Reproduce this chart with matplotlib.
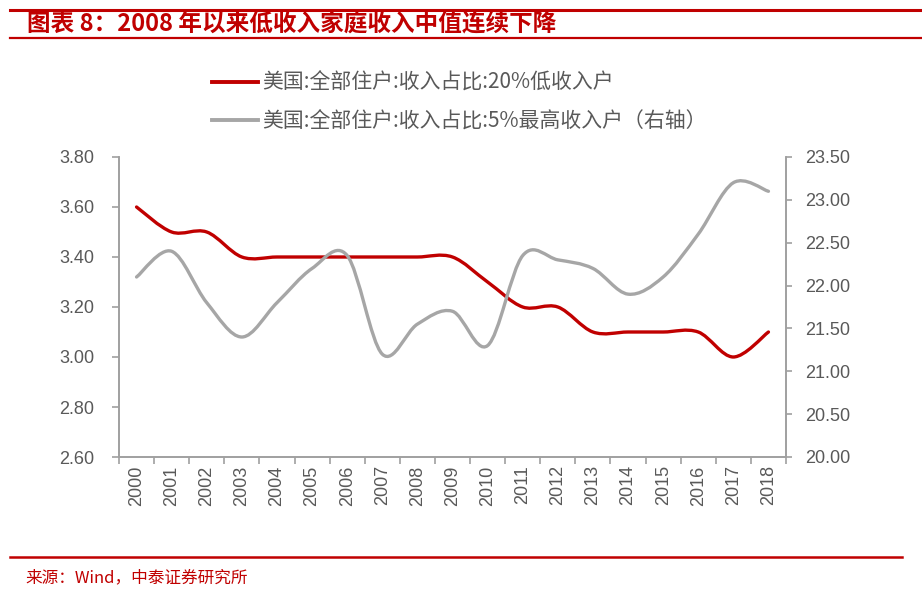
import matplotlib
matplotlib.use("Agg")
import matplotlib.pyplot as plt
from matplotlib.path import Path
from matplotlib.patches import PathPatch
from matplotlib.lines import Line2D
import numpy as np

plt.rcParams['font.family'] = ['Liberation Sans', 'Noto Sans CJK SC', 'DejaVu Sans']

years = [str(y) for y in range(2000, 2019)]
low20 = [3.6, 3.5, 3.5, 3.4, 3.4, 3.4, 3.4, 3.4, 3.4, 3.4, 3.3, 3.2, 3.2, 3.1, 3.1, 3.1, 3.1, 3.0, 3.1]
top5 = [22.1, 22.4, 21.8, 21.4, 21.8, 22.2, 22.35, 21.2, 21.55, 21.7, 21.3, 22.35, 22.3, 22.2, 21.9, 22.1, 22.6, 23.2, 23.1]
left_ticks = [2.6, 2.8, 3.0, 3.2, 3.4, 3.6, 3.8]
right_ticks = [20.0, 20.5, 21.0, 21.5, 22.0, 22.5, 23.0, 23.5]

title = "图表 8：2008 年以来低收入家庭收入中值连续下降"
label_low = "美国:全部住户:收入占比:20%低收入户"
label_top = "美国:全部住户:收入占比:5%最高收入户（右轴）"
source = "来源：Wind，中泰证券研究所"

RED = '#C00000'
GRAY = '#A6A6A6'
TXT = '#595959'
AX = '#A0A0A0'
CJK = ['Noto Sans CJK SC', 'DejaVu Sans']


def smooth_path(xs, ys):
    xs = np.asarray(xs, float)
    ys = np.asarray(ys, float)
    n = len(xs)
    verts = [(xs[0], ys[0])]
    codes = [Path.MOVETO]
    for i in range(n - 1):
        p0 = (xs[max(i - 1, 0)], ys[max(i - 1, 0)])
        p1 = (xs[i], ys[i])
        p2 = (xs[i + 1], ys[i + 1])
        p3 = (xs[min(i + 2, n - 1)], ys[min(i + 2, n - 1)])
        c1 = (p1[0] + (p2[0] - p0[0]) / 6, p1[1] + (p2[1] - p0[1]) / 6)
        c2 = (p2[0] - (p3[0] - p1[0]) / 6, p2[1] - (p3[1] - p1[1]) / 6)
        verts += [c1, c2, p2]
        codes += [Path.CURVE4] * 3
    return Path(verts, codes)


fig = plt.figure(figsize=(9.22, 5.98), dpi=100)
fig.patch.set_facecolor('white')
W, H = 922, 598
ax = fig.add_axes([119 / W, 1 - 457 / H, (786 - 119) / W, (457 - 157) / H])
ax2 = ax.twinx()

x = np.arange(len(years))
ax.add_patch(PathPatch(smooth_path(x, low20), fill=False, edgecolor=RED, lw=2.4,
                       capstyle='round', joinstyle='round', zorder=3))
ax2.add_patch(PathPatch(smooth_path(x, top5), fill=False, edgecolor=GRAY, lw=2.4,
                        capstyle='round', joinstyle='round', zorder=2))

ax.set_xlim(-0.5, len(years) - 0.5)
ax.set_ylim(2.6, 3.8)
ax2.set_ylim(20.0, 23.5)
ax.set_yticks(left_ticks)
ax.set_yticklabels([f"{v:.2f}" for v in left_ticks])
ax2.set_yticks(right_ticks)
ax2.set_yticklabels([f"{v:.2f}" for v in right_ticks])
ax.set_xticks(x)
ax.set_xticklabels(years, rotation=90)
ax.set_xticks(np.arange(-0.5, len(years), 1.0), minor=True)

for a in (ax, ax2):
    a.set_facecolor('none')
    a.spines['top'].set_visible(False)
    for s in ('left', 'right', 'bottom'):
        a.spines[s].set_color(AX)
        a.spines[s].set_linewidth(1.2)

ax.tick_params(axis='x', which='major', length=0, pad=6, labelsize=13, labelcolor=TXT)
ax.tick_params(axis='x', which='minor', length=5, width=1.2, color=AX, direction='out')
ax.tick_params(axis='y', length=5, width=1.2, color=AX, direction='out', pad=13,
               labelsize=13, labelcolor=TXT)
ax2.tick_params(axis='y', length=4, width=1.2, color=AX, direction='out', pad=10,
                labelsize=13, labelcolor=TXT)

handles = [Line2D([], [], color=RED, lw=2.8), Line2D([], [], color=GRAY, lw=2.8)]
fig.legend(handles, [label_low, label_top], loc='upper left',
           bbox_to_anchor=(212 / W, 1 - 72 / H), frameon=False,
           prop={'family': CJK, 'size': 15},
           labelcolor=TXT, handlelength=2.2, handletextpad=0.2,
           labelspacing=0.8, borderpad=0, borderaxespad=0)

# header
fig.add_artist(Line2D([10 / W, 1.0], [1 - 10 / H, 1 - 10 / H], color=RED, lw=2.2))
fig.add_artist(Line2D([10 / W, 1.0], [1 - 38 / H, 1 - 38 / H], color=RED, lw=1.6))
fig.text(27 / W, 1 - 24 / H, title, color=RED, fontsize=17, fontweight='bold',
         style='italic', va='center', ha='left', family=CJK)

# footer
fig.add_artist(Line2D([10 / W, 902 / W], [1 - 557 / H, 1 - 557 / H], color=RED, lw=1.8))
fig.text(25 / W, 1 - 578 / H, source, color=RED, fontsize=12, va='center', ha='left',
         family=CJK)

fig.savefig('out.png', dpi=100, facecolor='white')
